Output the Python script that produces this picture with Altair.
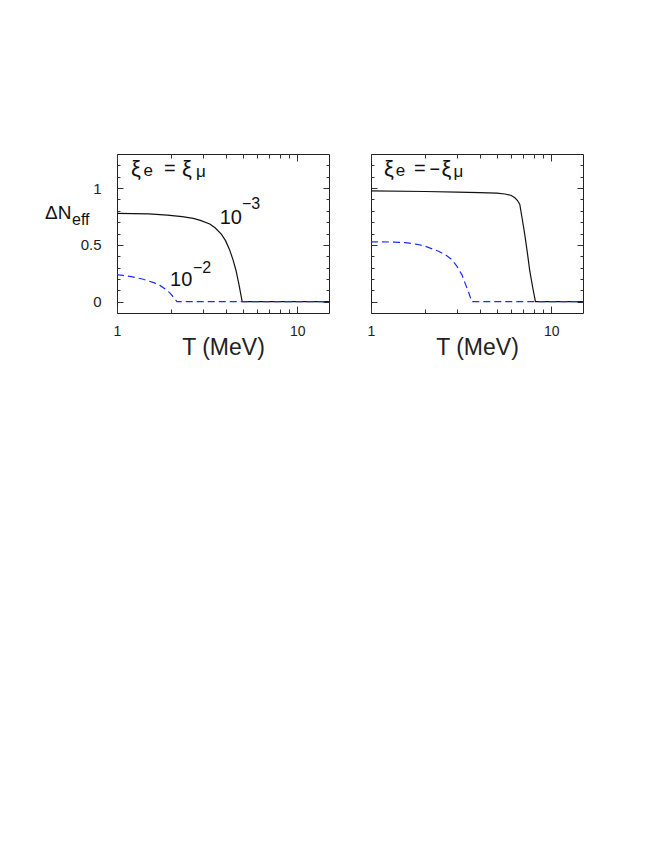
import altair as alt
import pandas as pd

FONT = "Liberation Sans"

# ---------------- data ----------------
# panel 1: xi_e = xi_mu
T_a_3 = [1.0, 1.5, 1.9, 2.3, 2.65, 2.9, 3.27, 3.5, 3.8, 4.0, 4.2, 4.4, 4.58, 4.75, 4.88, 4.95, 15.0]
N_a_3 = [0.778, 0.772, 0.762, 0.748, 0.733, 0.716, 0.684, 0.65, 0.592, 0.537, 0.462, 0.37, 0.27, 0.15, 0.05, 0.0, 0.0]
T_a_2 = [1.0, 1.07, 1.2, 1.4, 1.6, 1.73, 1.85, 1.97, 2.07, 2.15, 15.0]
N_a_2 = [0.238, 0.232, 0.22, 0.197, 0.167, 0.143, 0.112, 0.075, 0.035, 0.0, 0.0]
# panel 2: xi_e = -xi_mu
T_b_3 = [1.0, 2.0, 3.0, 4.0, 5.0, 5.53, 6.0, 6.28, 6.5, 6.69, 6.9, 7.13, 7.4, 7.6, 7.9, 8.17, 15.0]
N_b_3 = [0.975, 0.97, 0.965, 0.96, 0.955, 0.948, 0.935, 0.915, 0.89, 0.856, 0.73, 0.59, 0.41, 0.27, 0.12, 0.0, 0.0]
T_b_2 = [1.0, 1.3, 1.55, 1.8, 2.0, 2.37, 2.6, 2.81, 3.0, 3.19, 3.35, 3.47, 3.62, 15.0]
N_b_2 = [0.526, 0.525, 0.52, 0.505, 0.488, 0.444, 0.41, 0.37, 0.31, 0.238, 0.15, 0.09, 0.0, 0.0]

x_major = [1, 10]
x_minor = [2, 3, 4, 5, 6, 7, 8, 9]
y_major = [0, 0.5, 1]
y_minor = [0.1, 0.2, 0.3, 0.4, 0.6, 0.7, 0.8, 0.9, 1.1, 1.2]

# annotation texts (curve labels in data coordinates)
curve_label_text = ["10", "\u22123", "10", "\u22122"]
curve_label_T = [3.71, 4.93, 1.97, 2.64]
curve_label_N = [0.685, 0.82, 0.135, 0.25]
curve_label_size = [20, 16, 20, 16]

# panel titles (pieces, pixel offsets from plot's top-left)
title_a_text = ["\u03be", "e", "=", "\u03be", "\u03bc"]
title_a_px = [14, 26.5, 47, 65, 79]
title_a_py = [21.5, 22, 20.5, 21.5, 23]
title_a_size = [22, 17, 20, 22, 17]
title_b_text = ["\u03be", "e", "=", "\u2212", "\u03be", "\u03bc"]
title_b_px = [13, 24.7, 43, 58.5, 70.5, 82.5]
title_b_py = [21.5, 22, 20.5, 20.5, 21.5, 23]
title_b_size = [22, 17, 20, 18, 22, 17]

ylab_text = ["\u0394N", "eff"]
ylab_px = [-72, -45]
ylab_py = [65, 71]
ylab_size = [19, 16]

W, H = 212, 159
xs = alt.Scale(type="log", domain=[1, 15], nice=False)
ys = alt.Scale(domain=[-0.1, 1.3], nice=False, zero=False)

TICK = "#333"


def ax(orient, values, size, labels=False, **kw):
    return alt.Axis(orient=orient, values=values, tickSize=size, offset=-size,
                    labels=labels, domain=False, grid=False, tickColor=TICK,
                    tickWidth=1, title=None if "title" not in kw else kw.pop("title"), **kw)


def panel(T3, N3, T2, N2, tpieces, with_ylabels, with_curve_labels):
    d3 = pd.DataFrame({"T": T3, "dN": N3})
    d2 = pd.DataFrame({"T": T2, "dN": N2})

    xa = dict(labelFontSize=14, labelPadding=11, labelFlush=False, labelColor="#222",
              labelFont=FONT, format="~g", titleFont=FONT, titleFontSize=23,
              titleFontWeight="normal", titleColor="#222", titleBaseline="alphabetic",
              titleY=48)
    ya = dict(labelFontSize=15, labelPadding=16, labelColor="#222", labelFont=FONT,
              format="~g")

    black = alt.Chart(d3).mark_line(color="#111", strokeWidth=1.2, clip=True).encode(
        x=alt.X("T:Q", scale=xs, axis=ax("bottom", x_major, 7, labels=True,
                                           title="T (MeV)", **xa)),
        y=alt.Y("dN:Q", scale=ys, axis=ax("left", y_major, 6, labels=with_ylabels, **ya)),
    )
    blue = alt.Chart(d2).mark_line(color="#1a2cff", strokeWidth=1.2, strokeDash=[7, 4],
                                   clip=True).encode(
        x=alt.X("T:Q", scale=xs, axis=ax("bottom", x_minor, 4)),
        y=alt.Y("dN:Q", scale=ys, axis=ax("left", y_minor, 3)),
    )
    inv1 = alt.Chart(d3).mark_point(opacity=0).encode(
        x=alt.X("T:Q", scale=xs, axis=ax("top", x_major, 7)),
        y=alt.Y("dN:Q", scale=ys, axis=ax("right", y_major, 6)),
    )
    inv2 = alt.Chart(d3).mark_point(opacity=0).encode(
        x=alt.X("T:Q", scale=xs, axis=ax("top", x_minor, 4)),
        y=alt.Y("dN:Q", scale=ys, axis=ax("right", y_minor, 3)),
    )
    layers = [black, blue, inv1, inv2]

    tt, tx, ty, tsz = tpieces
    tdf = pd.DataFrame({"t": tt, "px": tx, "py": ty, "sz": tsz})
    layers.append(alt.Chart(tdf).mark_text(font=FONT, align="left", baseline="alphabetic",
                                          color="#111").encode(
        x=alt.X("px:Q", scale=None, axis=None), y=alt.Y("py:Q", scale=None, axis=None),
        text="t:N", size=alt.Size("sz:Q", scale=None, legend=None)))

    if with_curve_labels:
        cdf = pd.DataFrame({"t": curve_label_text, "T": curve_label_T,
                            "dN": curve_label_N, "sz": curve_label_size})
        layers.append(alt.Chart(cdf).mark_text(font=FONT, align="left", baseline="alphabetic",
                                              color="#111").encode(
            x=alt.X("T:Q", scale=xs, axis=None), y=alt.Y("dN:Q", scale=ys, axis=None),
            text="t:N", size=alt.Size("sz:Q", scale=None, legend=None)))

    if with_ylabels:
        ldf = pd.DataFrame({"t": ylab_text, "px": ylab_px, "py": ylab_py, "sz": ylab_size})
        layers.append(alt.Chart(ldf).mark_text(font=FONT, align="left", baseline="alphabetic",
                                              color="#111").encode(
            x=alt.X("px:Q", scale=None, axis=None), y=alt.Y("py:Q", scale=None, axis=None),
            text="t:N", size=alt.Size("sz:Q", scale=None, legend=None)))

    return alt.layer(*layers).resolve_axis(x="independent", y="independent").properties(
        width=W, height=H)


left = panel(T_a_3, N_a_3, T_a_2, N_a_2,
             (title_a_text, title_a_px, title_a_py, title_a_size), True, True)
right = panel(T_b_3, N_b_3, T_b_2, N_b_2,
              (title_b_text, title_b_px, title_b_py, title_b_size), False, False)

chart = alt.hconcat(left, right, spacing=33).properties(
    padding={"left": 36, "top": 145, "right": 5, "bottom": 5},
    background="white",
).configure_view(stroke="#222", strokeWidth=1)

chart.save("out.html", embed_options={"renderer": "svg", "actions": False})
